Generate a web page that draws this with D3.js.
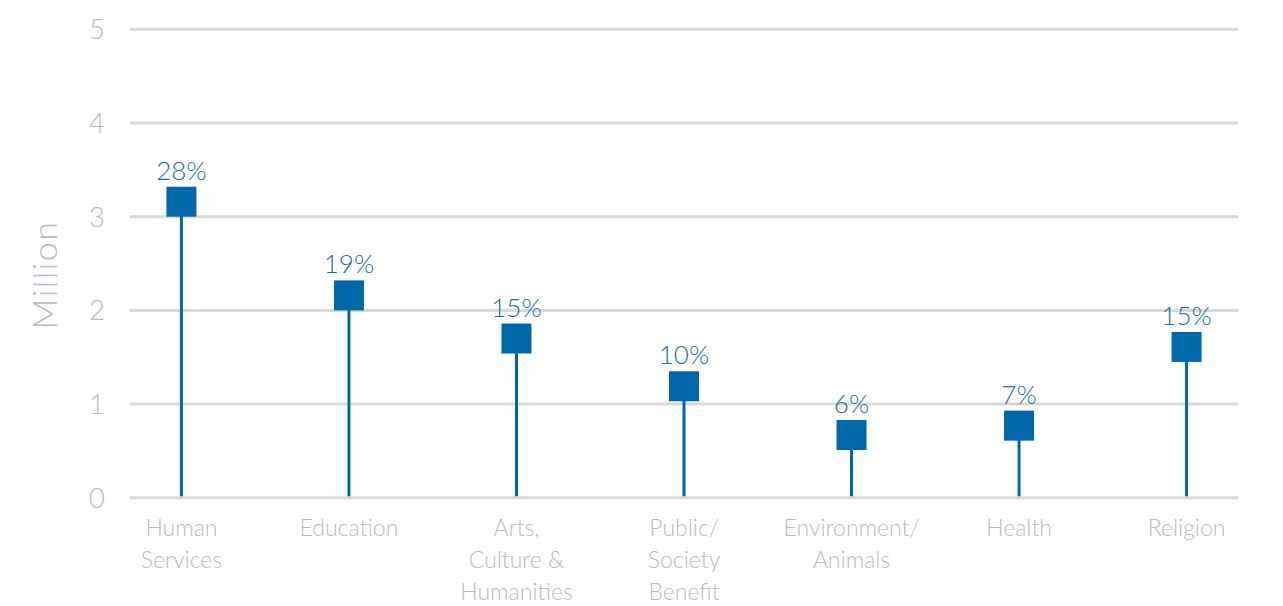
<!DOCTYPE html>
<html><head><meta charset="utf-8">
<script src="https://cdn.jsdelivr.net/npm/d3@7/dist/d3.min.js"></script>
<style>
body{margin:0;background:#fff;}
text{font-family:"Lato","Open Sans",sans-serif;font-weight:300;}
</style></head>
<body><svg id="c" width="1283" height="606"></svg>
<script>
const categories = [["Human","Services"],["Education"],["Arts,","Culture &","Humanities"],["Public/","Society","Benefit"],["Environment/","Animals"],["Health"],["Religion"]];
const values = [3.16, 2.16, 1.70, 1.19, 0.67, 0.77, 1.61];
const shares = ["28%","19%","15%","10%","6%","7%","15%"];
const yTicks = [0,1,2,3,4,5];

const svg = d3.select("#c");
const x = d3.scalePoint().domain(d3.range(categories.length)).range([130,1238]).padding(0.307);
const y = d3.scaleLinear().domain([0,5]).range([497.8,29.3]);
const blue = "#0068a8", axisCol = "#b3bccb";

svg.append("g").selectAll("line").data(yTicks).join("line")
  .attr("x1",130).attr("x2",1238).attr("y1",d=>y(d)).attr("y2",d=>y(d))
  .attr("stroke","#d9d9d9").attr("stroke-width",3);
svg.append("g").selectAll("text").data(yTicks).join("text")
  .attr("x",105).attr("y",d=>y(d)+10).attr("text-anchor","end")
  .attr("font-size",28).attr("fill",axisCol).text(d=>d);
svg.append("text").attr("transform","translate(57,275) rotate(-90)")
  .attr("text-anchor","middle").attr("font-size",34).attr("letter-spacing",1.5)
  .attr("fill",axisCol).text("Million");

const g = svg.append("g").selectAll("g").data(values).join("g");
g.append("line").attr("x1",(d,i)=>x(i)).attr("x2",(d,i)=>x(i))
  .attr("y1",y(0)-1.5).attr("y2",d=>y(d)).attr("stroke",blue).attr("stroke-width",3);
g.append("rect").attr("x",(d,i)=>x(i)-15).attr("y",d=>y(d)-15)
  .attr("width",30).attr("height",30).attr("fill",blue);
g.append("text").attr("x",(d,i)=>x(i)).attr("y",d=>y(d)-22)
  .attr("text-anchor","middle").attr("font-size",26).attr("fill","#1a6eab")
  .text((d,i)=>shares[i]);

const lab = svg.append("g").selectAll("text").data(categories).join("text")
  .attr("text-anchor","middle").attr("font-size",23).attr("fill",axisCol);
lab.selectAll("tspan").data((d,i)=>d.map(s=>({s,i}))).join("tspan")
  .attr("x",d=>x(d.i)).attr("y",(d,j)=>536+j*32).text(d=>d.s);
</script></body></html>
